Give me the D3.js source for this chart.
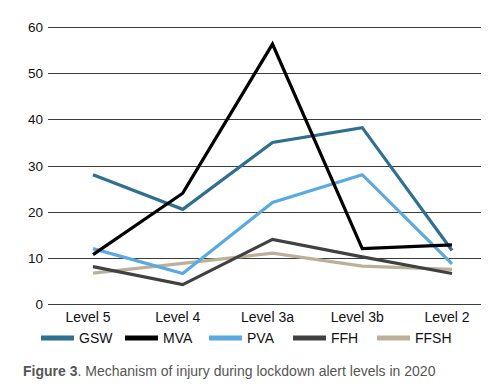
<!DOCTYPE html>
<html>
<head>
<meta charset="utf-8">
<script src="https://cdn.jsdelivr.net/npm/d3@7"></script>
<style>
  html, body { margin: 0; padding: 0; background: #fff; }
  svg { display: block; font-family: "Liberation Sans", Arial, sans-serif; }
</style>
</head>
<body>
<svg id="chart" width="502" height="391"></svg>
<script>
  const levels = ['Level 5', 'Level 4', 'Level 3a', 'Level 3b', 'Level 2'];
  const yTicks = [0, 10, 20, 30, 40, 50, 60];

  const gsw = [28, 20.5, 35, 38.2, 11.6];
  const mva = [10.7, 24, 56.3, 12, 12.8];
  const pva = [12, 6.6, 22, 28, 8.7];
  const ffh = [8.1, 4.2, 14, 10.2, 6.6];
  const ffsh = [6.7, 8.8, 11, 8.2, 7.5];

  const seriesNames = ['GSW', 'MVA', 'PVA', 'FFH', 'FFSH'];
  const seriesValues = [gsw, mva, pva, ffh, ffsh];
  const seriesColors = ['#2f6f8f', '#000000', '#5aa9e0', '#414141', '#bdb09a'];

  const svg = d3.select('#chart');
  const gridLeft = 48;
  const gridRight = 481;

  const x = d3.scalePoint().domain(levels).range([93, 452]);
  const y = d3.scaleLinear().domain([0, 60]).range([304, 27]);

  // horizontal grid lines
  svg.append('g')
    .selectAll('line')
    .data(yTicks)
    .join('line')
    .attr('x1', gridLeft)
    .attr('x2', gridRight)
    .attr('y1', (d) => Math.round(y(d)) + 0.5)
    .attr('y2', (d) => Math.round(y(d)) + 0.5)
    .attr('stroke', '#3c3c3c')
    .attr('stroke-width', 1);

  // y tick labels
  svg.append('g')
    .selectAll('text')
    .data(yTicks)
    .join('text')
    .attr('x', 43)
    .attr('y', (d) => y(d) + 5)
    .attr('text-anchor', 'end')
    .attr('font-size', 13.5)
    .attr('fill', '#111')
    .text((d) => d);

  // x labels
  svg.append('g')
    .selectAll('text')
    .data(levels)
    .join('text')
    .attr('x', (d) => x(d) - 5)
    .attr('y', 322)
    .attr('text-anchor', 'middle')
    .attr('font-size', 14)
    .attr('fill', '#111')
    .text((d) => d);

  const line = d3.line()
    .x((d, i) => x(levels[i]))
    .y((d) => y(d));

  // draw in reverse order so GSW/MVA sit on top
  const order = [4, 3, 2, 0, 1];
  svg.append('g')
    .selectAll('path')
    .data(order)
    .join('path')
    .attr('d', (k) => line(seriesValues[k]))
    .attr('fill', 'none')
    .attr('stroke', (k) => seriesColors[k])
    .attr('stroke-width', 3.2)
    .attr('stroke-linejoin', 'miter');

  // legend
  const legendX = [41, 125, 209, 293, 377];
  const legend = svg.append('g')
    .selectAll('g')
    .data(seriesNames)
    .join('g')
    .attr('transform', (d, i) => `translate(${legendX[i]},338)`);
  legend.append('line')
    .attr('x1', 0)
    .attr('x2', 33)
    .attr('stroke', (d, i) => seriesColors[i])
    .attr('stroke-width', 5);
  legend.append('text')
    .attr('x', 38)
    .attr('y', 5)
    .attr('font-size', 14)
    .attr('fill', '#111')
    .text((d) => d);

  // caption
  const cap = svg.append('text')
    .attr('x', 23)
    .attr('y', 376)
    .attr('font-size', 14)
    .attr('fill', '#555');
  cap.append('tspan').attr('font-weight', 'bold').text('Figure 3');
  cap.append('tspan').text('. Mechanism of injury during lockdown alert levels in 2020');
</script>
</body>
</html>
